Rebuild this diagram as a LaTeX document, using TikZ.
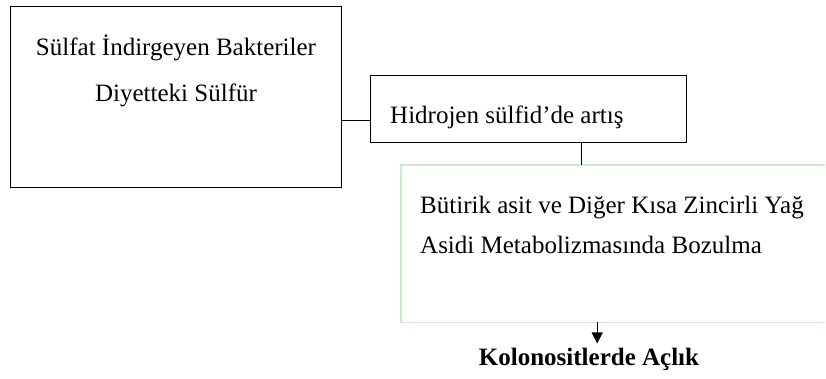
\documentclass[tikz,border=0pt]{standalone}
\usepackage{fontspec}
\setmainfont{Liberation Serif}
\usetikzlibrary{shapes,arrows,arrows.meta,positioning}
\definecolor{lightgreen}{RGB}{196,240,196}

\begin{document}
\begin{tikzpicture}[x=1pt,y=-1pt,
        box/.style={draw,line width=1.4pt,rectangle,anchor=north west,inner sep=0pt},
        txt/.style={font=\fontsize{25}{30}\selectfont,inner sep=0pt},
        greenline/.style={draw=lightgreen,line width=1.5pt}
        ]
        \useasboundingbox (0,0) rectangle (826,379);

        \node[box,minimum width=331pt,minimum height=181pt] (sulfat) at (10,6) {};
        \node[box,minimum width=316pt,minimum height=67pt] (hidrojen) at (370,75) {};
        \node[anchor=north west,inner sep=0pt,minimum width=424pt,minimum height=157pt] (bozulma) at (401,165) {};

        \node[txt,anchor=base] (bakteri) at (176,56) {Sülfat İndirgeyen Bakteriler};
        \node[txt,anchor=base] (diyet) at (176,102) {Diyetteki Sülfür};
        \node[txt,anchor=base west] (artis) at (390,124) {Hidrojen sülfid’de artış};
        \node[txt,anchor=base west] (butirik) at (420,214) {Bütirik asit ve Diğer Kısa Zincirli Yağ};
        \node[txt,anchor=base west] (asidi) at (420,253) {Asidi Metabolizmasında Bozulma};
        \node[txt,font=\fontsize{25}{30}\selectfont\bfseries,anchor=base] (aclik) at (589,365) {Kolonositlerde Açlık};

        \draw[greenline] (bozulma.north east) -- (bozulma.north west) -- (bozulma.south west) -- (bozulma.south east);

        \coordinate (link) at ([yshift=-11.5pt]hidrojen.west);
        \coordinate (down) at ([xshift=53pt]hidrojen.south);
        \coordinate (out) at ([xshift=-16pt]bozulma.south);

        \draw[line width=1.4pt] (sulfat.east |- link) to (link);
        \draw[line width=1.4pt] (down) to (down |- bozulma.north);
        \draw[line width=1.4pt,-{Triangle[width=11pt,length=11pt]}] (out) to ([yshift=4pt]out |- aclik.north);

    \end{tikzpicture}
\end{document}
